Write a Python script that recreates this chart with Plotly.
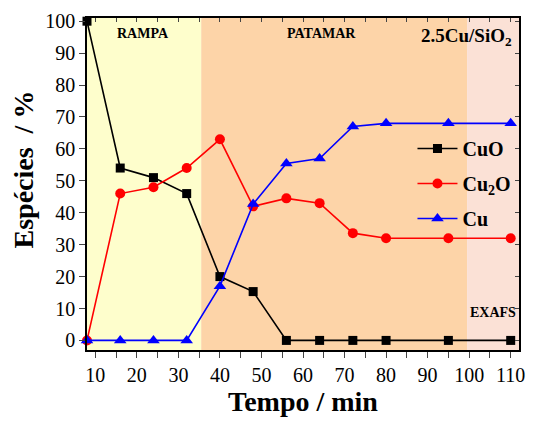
import plotly.graph_objects as go

tempo = [8, 16, 24, 32, 40, 48, 56, 64, 72, 80, 95, 110]
cuo = [100, 54, 51, 46, 20, 15.3, 0, 0, 0, 0, 0, 0]
cu2o = [0, 46, 48, 54, 63, 42, 44.5, 43, 33.6, 32, 32, 32]
cu = [0, 0, 0, 0, 17, 42.7, 55.4, 57, 67, 68, 68, 68]

x_range = [8, 112]
y_range = [-3, 101]
phases = [("RAMPA", 8, 35.5, "#FEFECC"), ("PATAMAR", 35.5, 99.5, "#FDD4A8"), ("EXAFS", 99.5, 112, "#FBE1D6")]

FONT = "Liberation Serif, Times New Roman, serif"
L, R, T, B = 87, 10, 15, 71
W, H = 535, 421
PW, PH = W - L - R, H - T - B

fig = go.Figure()
series = [("<b>CuO</b>", cuo, "black", "square", 9), ("<b>Cu<sub>2</sub>O</b>", cu2o, "#FF0000", "circle", 10),
          ("<b>Cu</b>", cu, "#0000FF", "triangle-up", 11)]
for i, (name, vals, col, sym, ms) in enumerate(series):
    fig.add_trace(go.Scatter(x=tempo, y=vals, name=name, mode="lines+markers",
                             line=dict(color=col, width=1.6),
                             marker=dict(symbol=sym, size=ms, color=col),
                             legendgroup=f"g{i}", cliponaxis=False))

for label, x0, x1, col in phases:
    fig.add_shape(type="rect", xref="x", yref="paper", x0=x0, x1=x1, y0=0, y1=1,
                  fillcolor=col, line=dict(width=0), layer="below")

fig.add_annotation(text="<b>RAMPA</b>", x=21.5, y=96, xref="x", yref="y", showarrow=False,
                   font=dict(family=FONT, size=14, color="black"))
fig.add_annotation(text="<b>PATAMAR</b>", x=64.5, y=96, xref="x", yref="y", showarrow=False,
                   font=dict(family=FONT, size=14, color="black"))
fig.add_annotation(text="<b>2.5Cu/SiO<sub>2</sub></b>", x=110.8, y=95, xref="x", yref="y", showarrow=False,
                   xanchor="right", font=dict(family=FONT, size=19, color="black"))
fig.add_annotation(text="<b>EXAFS</b>", x=105.8, y=8.6, xref="x", yref="y", showarrow=False,
                   font=dict(family=FONT, size=14, color="black"))
fig.add_annotation(text="<b>Espécies  / %</b>", xref="paper", yref="paper",
                   x=-(L - 23) / PW, y=(H - B - 168) / PH, xanchor="center", yanchor="middle",
                   showarrow=False, textangle=-90, font=dict(family=FONT, size=28, color="black"))

fig.update_layout(
    width=W, height=H,
    margin=dict(l=L, r=R, t=T, b=B),
    paper_bgcolor="white", plot_bgcolor="white",
    font=dict(family=FONT, color="black"),
    showlegend=True,
    legend=dict(x=(417 - L) / PW, y=(H - B - 127) / PH, xanchor="left", yanchor="top",
                bgcolor="rgba(0,0,0,0)", font=dict(family=FONT, size=20, color="black"),
                traceorder="grouped", tracegroupgap=6, itemwidth=40),
    xaxis=dict(range=x_range, dtick=10, tick0=0, ticks="outside", ticklen=6, tickwidth=1.3,
               minor=dict(dtick=5, ticks="outside", ticklen=6, tickwidth=1.3),
               showline=True, linecolor="black", linewidth=1.6, showgrid=False, zeroline=False,
               tickfont=dict(family=FONT, size=20, color="black"),
               title=dict(text="<b>Tempo / min</b>", font=dict(family=FONT, size=28, color="black"), standoff=6)),
    yaxis=dict(range=y_range, dtick=10, tick0=0, ticks="outside", ticklen=6, tickwidth=1.3,
               showline=True, linecolor="black", linewidth=1.6, showgrid=False, zeroline=False,
               tickfont=dict(family=FONT, size=20, color="black")),
    xaxis2=dict(range=x_range, overlaying="x", side="top", dtick=5, tick0=0, ticks="inside", ticklen=4,
                showticklabels=False, showline=True, linecolor="black", linewidth=1.6, showgrid=False,
                zeroline=False, anchor="y"),
    yaxis2=dict(range=y_range, overlaying="y", side="right", dtick=10, tick0=0, ticks="inside", ticklen=4,
                showticklabels=False, showline=True, linecolor="black", linewidth=1.6, showgrid=False,
                zeroline=False, anchor="x"),
)
fig.add_trace(go.Scatter(x=[], y=[], xaxis="x2", yaxis="y2", showlegend=False, hoverinfo="skip"))

fig.write_html("out.html", config={"displayModeBar": False},
               post_script="document.body.style.margin='0';")
